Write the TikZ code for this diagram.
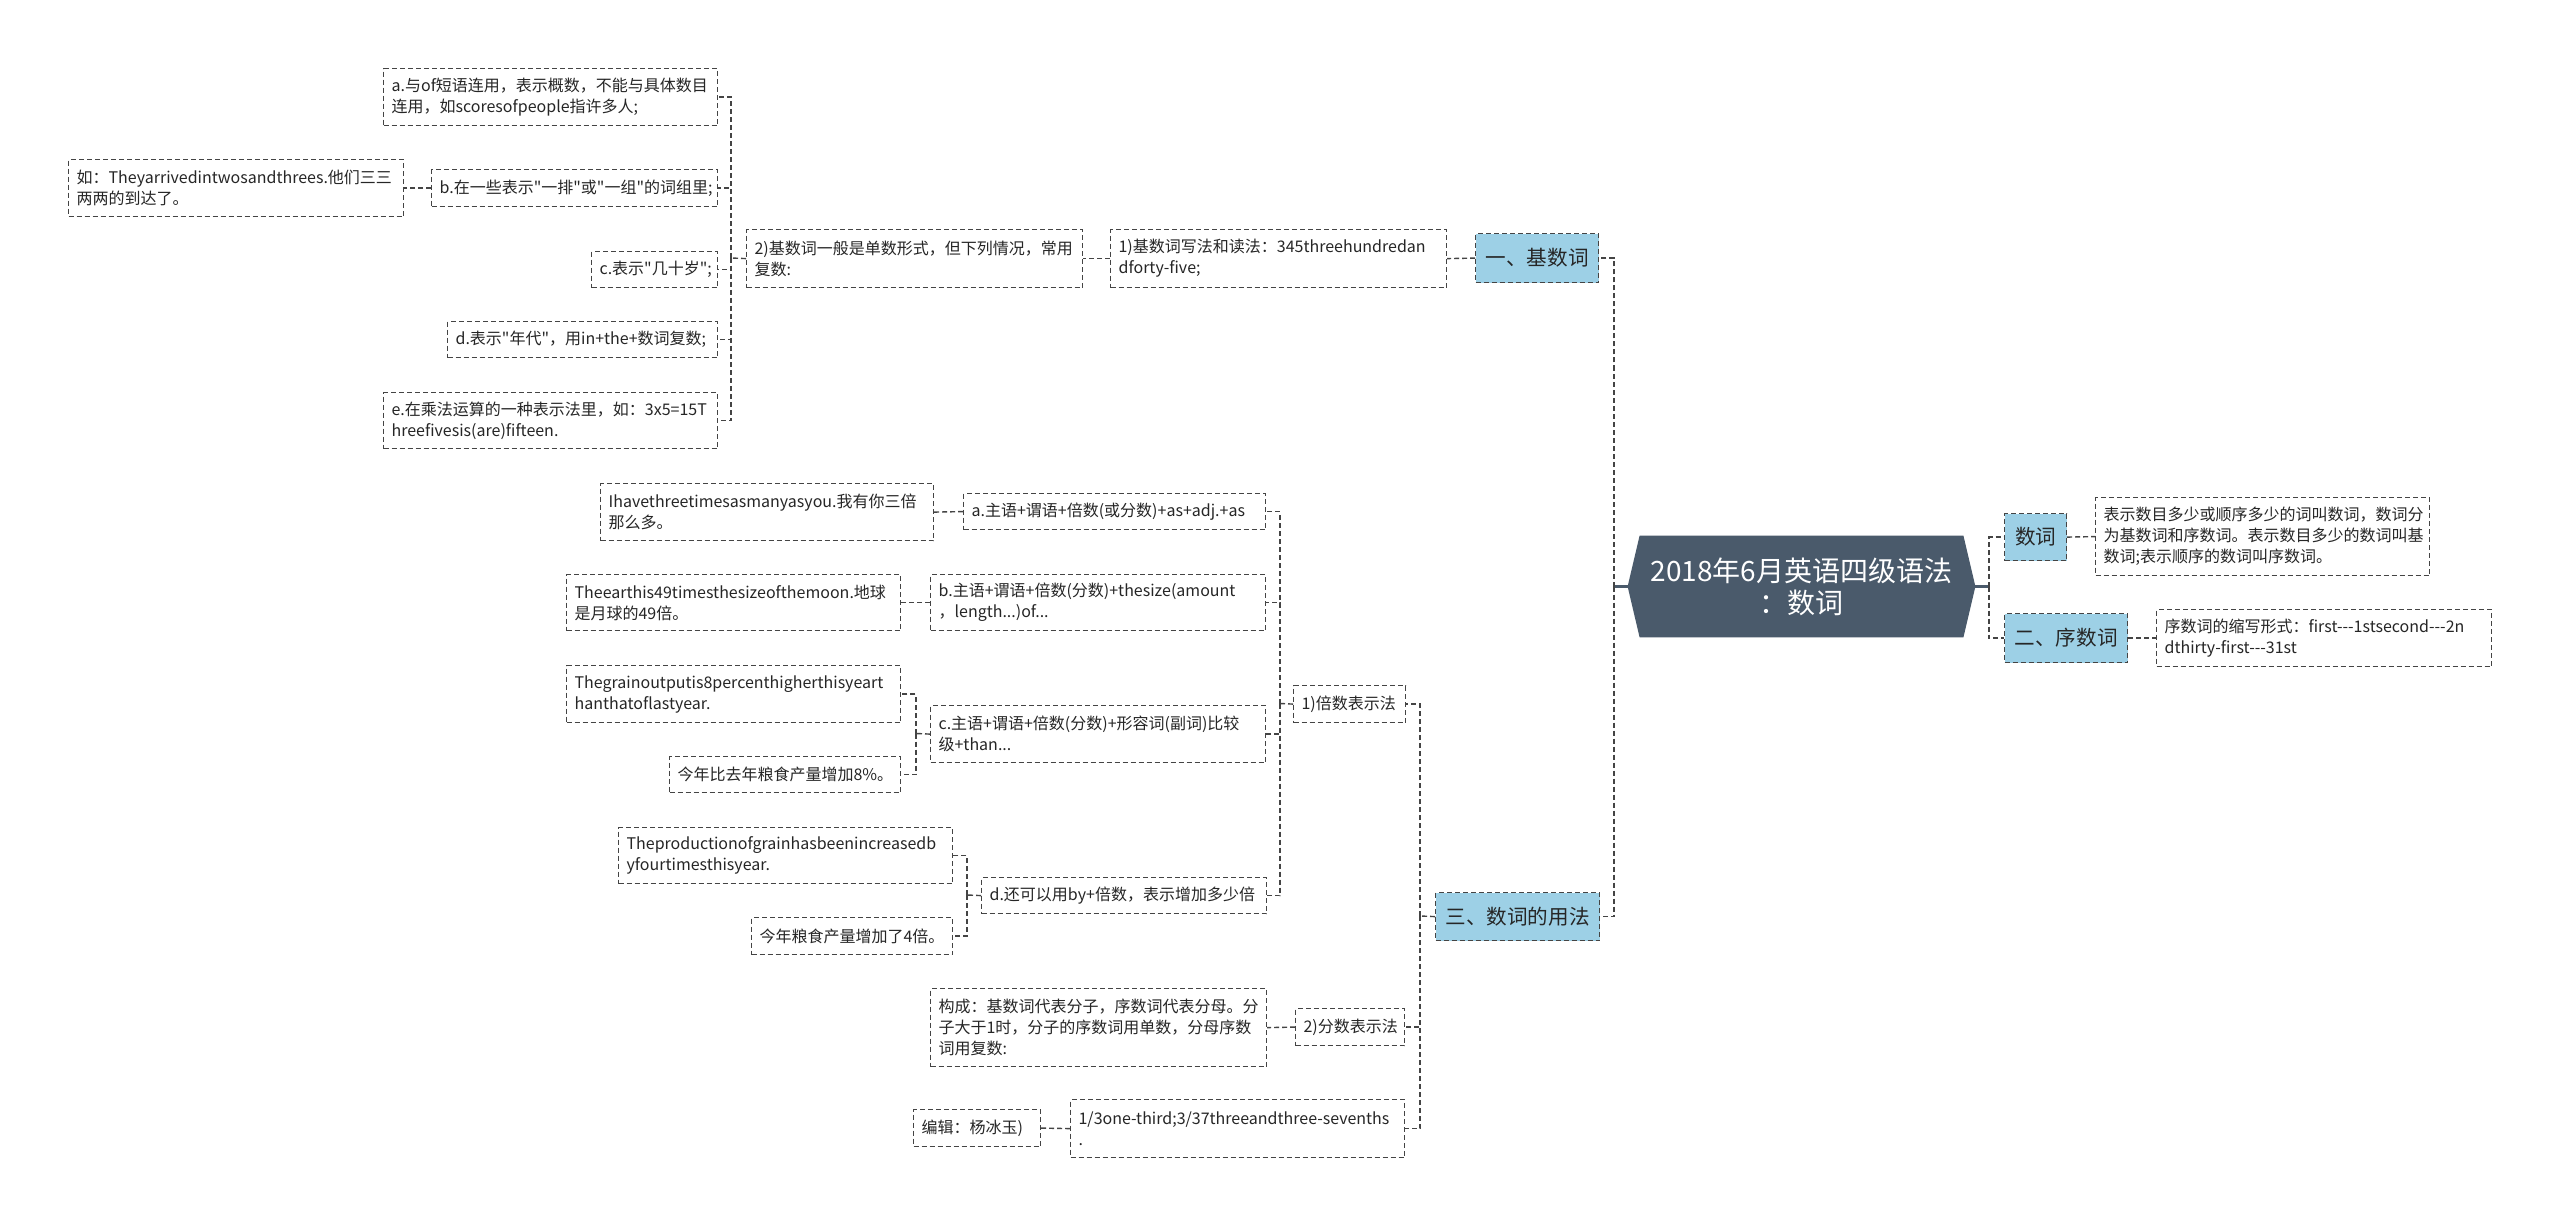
\documentclass[tikz,border=0pt]{standalone}
\usepackage{fontspec}
\setmainfont{Noto Sans CJK SC}[Ligatures=TeXOff]
\usetikzlibrary{backgrounds}
\exhyphenpenalty=10000
\hyphenpenalty=10000
\definecolor{rootfill}{HTML}{4A5A6B}
\definecolor{branchblue}{HTML}{9DD0E6}
\definecolor{linegray}{HTML}{444444}
\tikzset{
  leaf/.style={draw=linegray,dash pattern=on 2.5pt off 1.5pt,line width=0.6pt,
    font=\fontsize{8}{10.5}\selectfont,text=black!85,inner xsep=4pt,
    inner ysep=2pt,align=left,anchor=north west},
  branch/.style={leaf,fill=branchblue,align=center,
    font=\fontsize{10.3}{12}\selectfont},
  rootbox/.style={minimum width=161.5pt,minimum height=50.5pt,align=center,
    text=white,inner sep=0pt,font=\fontsize{14}{16}\selectfont},
  link/.style={draw=linegray,dash pattern=on 2.5pt off 1.5pt,line width=0.7pt},
  stub/.style={draw=rootfill,line width=1.2pt},
}
\begin{document}
\begin{tikzpicture}[x=0.5pt,y=-0.5pt]
  \useasboundingbox (0,0) rectangle (2560,1225);
  \node[rootbox] (root) at (1801.5,586.5) {2018年6月英语四级语法\\：数词};
  \node[branch,minimum width=61.5pt,minimum height=24.5pt] (jishu) at (1475,233) {一、基数词};
  \node[branch,minimum width=82pt,minimum height=24pt] (yongfa) at (1435,892) {三、数词的用法};
  \node[branch,minimum width=31pt,minimum height=23.5pt] (shuci) at (2004,513) {数词};
  \node[branch,minimum width=61.5pt,minimum height=24.5pt] (xushu) at (2004,613) {二、序数词};
  \node[leaf,text width=159pt,minimum height=39pt] (shucidef) at (2095,497)
    {表示数目多少或顺序多少的词叫数词，数词分\\为基数词和序数词。表示数目多少的数词叫基\\数词;表示顺序的数词叫序数词。};
  \node[leaf,text width=159.5pt,minimum height=28.5pt] (xushudef) at (2156,609)
    {序数词的缩写形式：first---1stsecond---2n\\dthirty-first---31st};
  \node[leaf,text width=160pt,minimum height=29pt] (kone) at (1110,229)
    {1)基数词写法和读法：345threehundredan\\dforty-five;};
  \node[leaf,text width=160pt,minimum height=29pt] (ktwo) at (746,229)
    {2)基数词一般是单数形式，但下列情况，常用\\复数:};
  \node[leaf,text width=159pt,minimum height=28.5pt] (ka) at (383,68)
    {a.与of短语连用，表示概数，不能与具体数目\\连用，如scoresofpeople指许多人;};
  \node[leaf,text width=135pt,minimum height=18.5pt] (kb) at (431,169)
    {b.在一些表示"一排"或"一组"的词组里;};
  \node[leaf,text width=159.5pt,minimum height=28.5pt] (kbx) at (68,159)
    {如：Theyarrivedintwosandthrees.他们三三\\两两的到达了。};
  \node[leaf,text width=55pt,minimum height=18pt] (kc) at (591,251) {c.表示"几十岁";};
  \node[leaf,text width=127pt,minimum height=18pt] (kd) at (447,321)
    {d.表示"年代"，用in+the+数词复数;};
  \node[leaf,text width=159pt,minimum height=28pt] (ke) at (383,392)
    {e.在乘法运算的一种表示法里，如：3x5=15T\\hreefivesis(are)fifteen.};
  \node[leaf,text width=48pt,minimum height=18.5pt] (bei) at (1293,685) {1)倍数表示法};
  \node[leaf,text width=46.5pt,minimum height=18.5pt] (fen) at (1295,1008) {2)分数表示法};
  \node[leaf,text width=159pt,minimum height=29pt] (third) at (1070,1099)
    {1/3one-third;3/37threeandthree-sevenths\\.};
  \node[leaf,text width=55.5pt,minimum height=18.5pt] (editor) at (913,1109) {编辑：杨冰玉)};
  \node[leaf,text width=160pt,minimum height=39pt] (gouc) at (930,988)
    {构成：基数词代表分子，序数词代表分母。分\\子大于1时，分子的序数词用单数，分母序数\\词用复数:};
  \node[leaf,text width=143pt,minimum height=18pt] (ma) at (963,493)
    {a.主语+谓语+倍数(或分数)+as+adj.+as};
  \node[leaf,text width=158.5pt,minimum height=28.5pt] (max) at (600,483)
    {Ihavethreetimesasmanyasyou.我有你三倍\\那么多。};
  \node[leaf,text width=159.5pt,minimum height=28pt] (mb) at (930,574)
    {b.主语+谓语+倍数(分数)+thesize(amount\\，length...)of...};
  \node[leaf,text width=159pt,minimum height=28pt] (mbx) at (566,574)
    {Theearthis49timesthesizeofthemoon.地球\\是月球的49倍。};
  \node[leaf,text width=159.5pt,minimum height=28.5pt] (mc) at (930,705)
    {c.主语+谓语+倍数(分数)+形容词(副词)比较\\级+than...};
  \node[leaf,text width=159pt,minimum height=28.5pt] (mcx) at (566,665)
    {Thegrainoutputis8percenthigherthisyeart\\hanthatoflastyear.};
  \node[leaf,text width=107.5pt,minimum height=18pt] (mcy) at (669,756)
    {今年比去年粮食产量增加8\%。};
  \node[leaf,text width=134.5pt,minimum height=18pt] (md) at (981,877)
    {d.还可以用by+倍数，表示增加多少倍};
  \node[leaf,text width=159pt,minimum height=28pt] (mdx) at (618,827)
    {Theproductionofgrainhasbeenincreasedb\\yfourtimesthisyear.};
  \node[leaf,text width=92.5pt,minimum height=18.5pt] (mdy) at (751,917)
    {今年粮食产量增加了4倍。};

  \coordinate (tL) at (1614,586.5);
  \coordinate (tR) at (1989,586.5);
  \coordinate (tk) at (731,258);
  \coordinate (tm) at (1420,916);
  \coordinate (tbei) at (1280,703.5);
  \coordinate (tmc) at (916,733.5);
  \coordinate (tmd) at (967,895);

  \draw[stub] ([xshift=-6pt]root.west) -- (tL);
  \draw[stub] ([xshift=6pt]root.east) -- (tR);
  \foreach \c in {jishu,yongfa} \draw[link] (tL) |- (\c.east);
  \foreach \c in {shuci,xushu} \draw[link] (tR) |- (\c.west);
  \draw[link] (shuci.east) -- (shucidef.west);
  \draw[link] (xushu.east) -- (xushudef.west);
  \draw[link] (jishu.west) -- (kone.east);
  \draw[link] (kone.west) -- (ktwo.east);
  \draw[link] (ktwo.west) -- (tk);
  \foreach \c in {ka,kb,kc,kd,ke} \draw[link] (tk) |- (\c.east);
  \draw[link] (kb.west) -- (kbx.east);
  \draw[link] (yongfa.west) -- (tm);
  \foreach \c in {bei,fen,third} \draw[link] (tm) |- (\c.east);
  \draw[link] (bei.west) -- (tbei);
  \foreach \c in {ma,mb,mc,md} \draw[link] (tbei) |- (\c.east);
  \draw[link] (ma.west) -- (max.east);
  \draw[link] (mb.west) -- (mbx.east);
  \draw[link] (mc.west) -- (tmc);
  \foreach \c in {mcx,mcy} \draw[link] (tmc) |- (\c.east);
  \draw[link] (md.west) -- (tmd);
  \foreach \c in {mdx,mdy} \draw[link] (tmd) |- (\c.east);
  \draw[link] (fen.west) -- (gouc.east);
  \draw[link] (third.west) -- (editor.east);

  \begin{scope}[on background layer]
    \fill[white] (0,0) rectangle (2560,1225);
    \fill[rootfill] (root.north west) -- (root.north east) -- ([xshift=6pt]root.east)
      -- (root.south east) -- (root.south west) -- ([xshift=-6pt]root.west) -- cycle;
  \end{scope}
\end{tikzpicture}
\end{document}
